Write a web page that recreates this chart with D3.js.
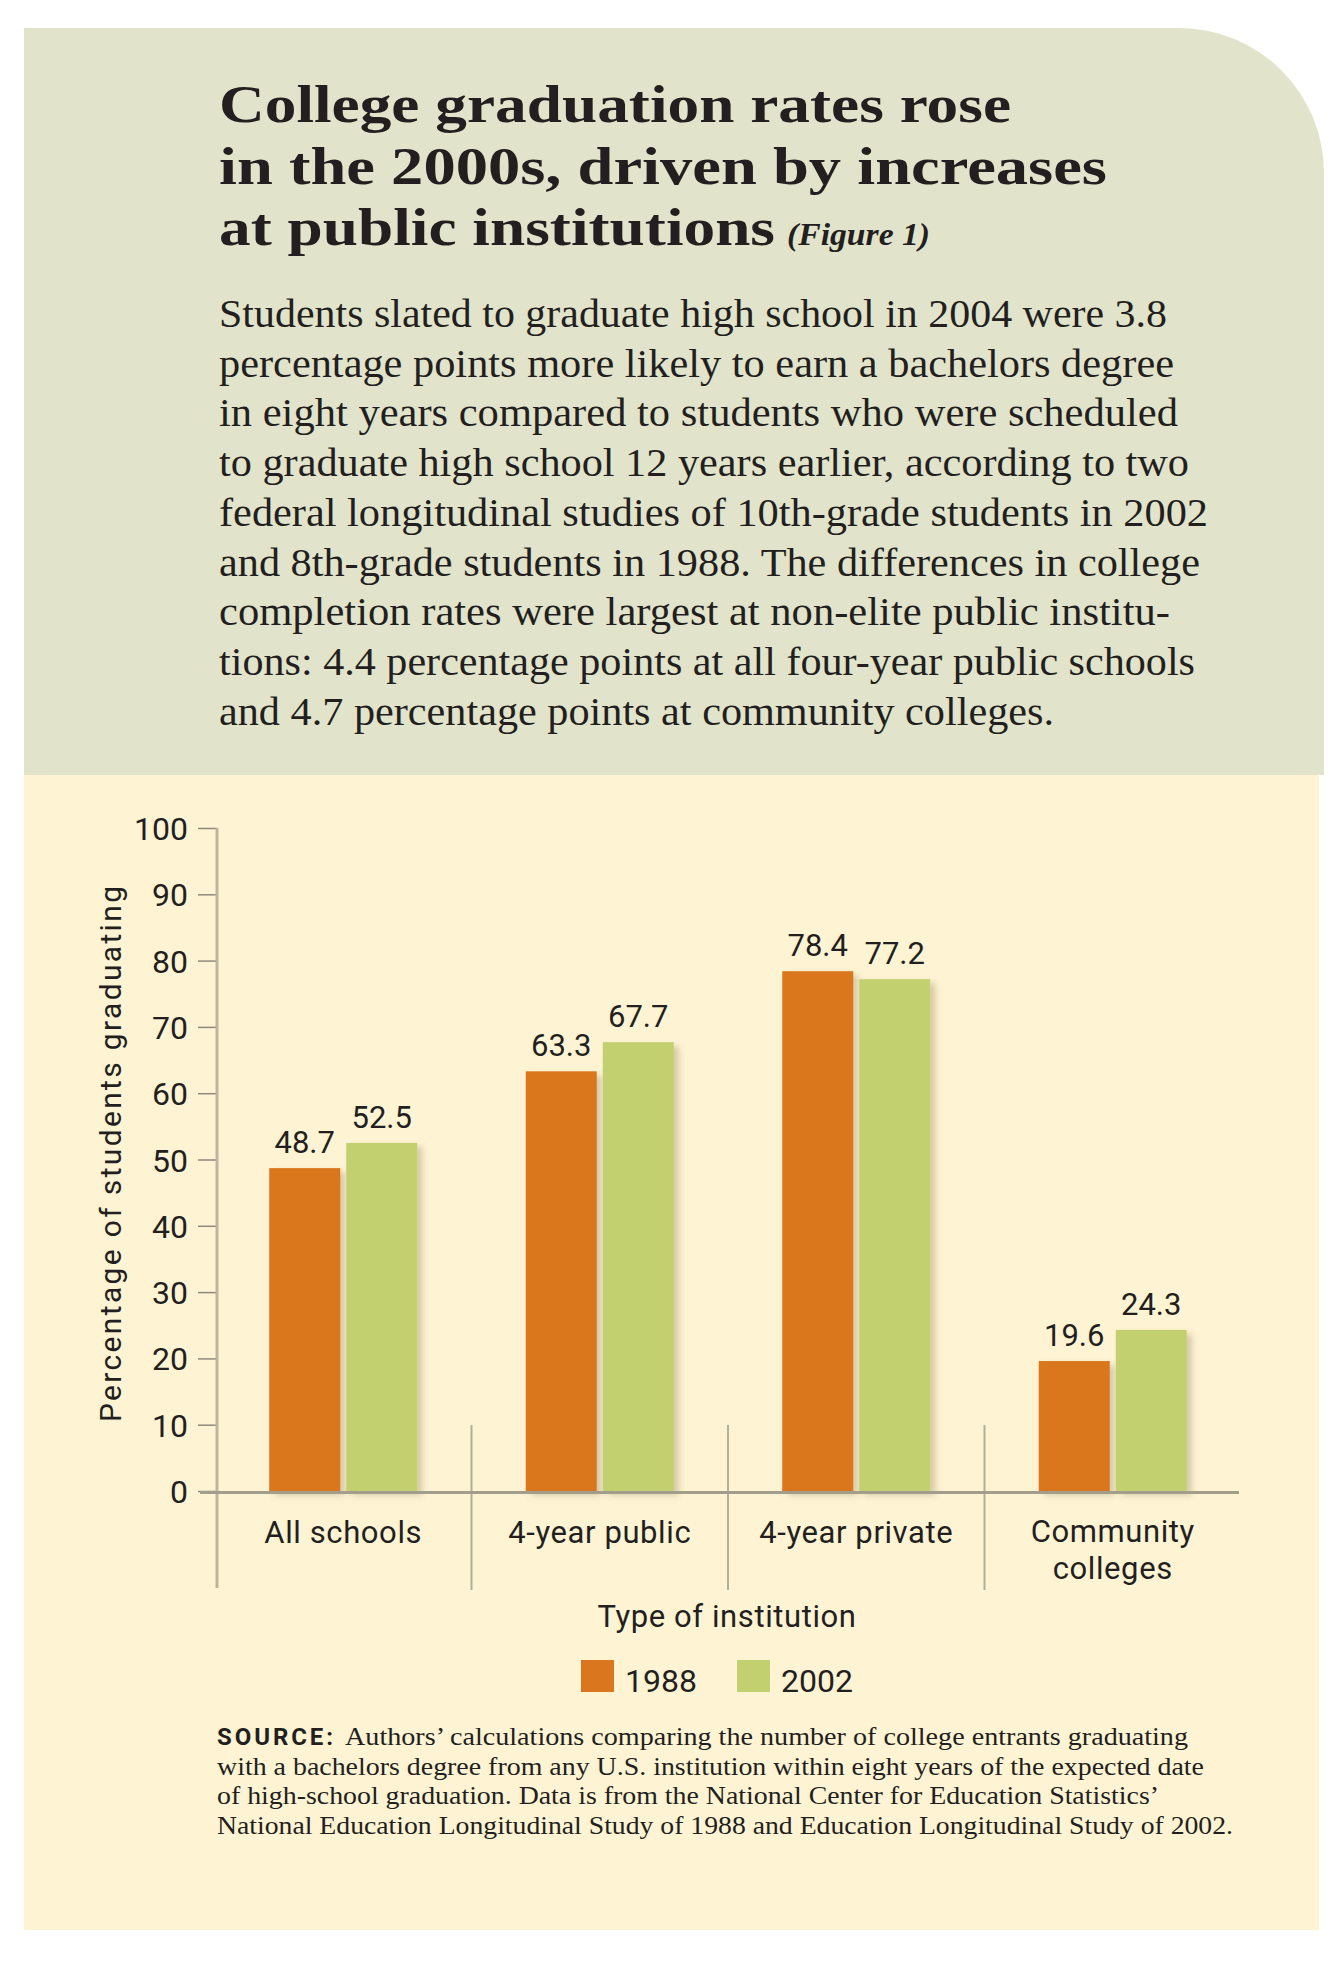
<!DOCTYPE html>
<html>
<head>
<meta charset="utf-8">
<title>College graduation rates</title>
<script src="https://cdn.jsdelivr.net/npm/d3@7"></script>
<style>
  body { margin: 0; background: #fff; }
  svg { display: block; }
  .serif { font-family: "Liberation Serif", "DejaVu Serif", serif; fill: #231f20; }
  .sans { font-family: Roboto, "Open Sans", sans-serif; fill: #231f20; }
</style>
</head>
<body>
<svg id="main" width="1344" height="1961"></svg>
<script>
// data
var categories = ["All schools", "4-year public", "4-year private", "Community colleges"];
var years = ["1988", "2002"];
var rate1988 = [48.7, 63.3, 78.4, 19.6];
var rate2002 = [52.5, 67.7, 77.2, 24.3];
var yTicks = [0, 10, 20, 30, 40, 50, 60, 70, 80, 90, 100];

var titleLines = ["College graduation rates rose", "in the 2000s, driven by increases", "at public institutions"];
var bodyLines = [
  "Students slated to graduate high school in 2004 were 3.8",
  "percentage points more likely to earn a bachelors degree",
  "in eight years compared to students who were scheduled",
  "to graduate high school 12 years earlier, according to two",
  "federal longitudinal studies of 10th-grade students in 2002",
  "and 8th-grade students in 1988. The differences in college",
  "completion rates were largest at non-elite public institu-",
  "tions: 4.4 percentage points at all four-year public schools",
  "and 4.7 percentage points at community colleges."
];
var sourceLines = [
  "Authors\u2019 calculations comparing the number of college entrants graduating",
  "with a bachelors degree from any U.S. institution within eight years of the expected date",
  "of high-school graduation. Data is from the National Center for Education Statistics\u2019",
  "National Education Longitudinal Study of 1988 and Education Longitudinal Study of 2002."
];

var colors = {"1988": "#da761d", "2002": "#c3d070"};
var svg = d3.select("#main");

// shadow for bars
var defs = svg.append("defs");
var f = defs.append("filter").attr("id", "shadow")
  .attr("x", "-20%").attr("y", "-10%").attr("width", "150%").attr("height", "130%");
f.append("feDropShadow").attr("dx", 5).attr("dy", 4).attr("stdDeviation", 3)
  .attr("flood-color", "#6b5a30").attr("flood-opacity", 0.28);

// PANELS
var r = 145;
svg.append("path")
  .attr("d", "M24,28 H" + (1324 - r) + " A" + r + "," + r + " 0 0 1 1324," + (28 + r) + " V775 H24 Z")
  .attr("fill", "#e1e4cb");
svg.append("rect").attr("x", 24).attr("y", 775).attr("width", 1295).attr("height", 1155)
  .attr("fill", "#fef4d4");

// TITLE
var titleEnds = [1011, 1107, 775];
titleLines.forEach(function(t, i) {
  svg.append("text").attr("class", "serif")
    .attr("x", 219).attr("y", 122 + i * 61.5)
    .attr("font-family", "'DejaVu Serif', serif")
    .attr("font-weight", "bold").attr("font-size", 53)
    .attr("textLength", titleEnds[i] - 219).attr("lengthAdjust", "spacingAndGlyphs")
    .text(t);
});
svg.append("text").attr("class", "serif")
  .attr("x", 787).attr("y", 245)
  .attr("font-style", "italic").attr("font-weight", "bold").attr("font-size", 32)
  .attr("textLength", 143).attr("lengthAdjust", "spacingAndGlyphs")
  .text("(Figure 1)");

// BODY TEXT
var bodyEnds = [1167, 1174, 1178, 1189, 1208, 1200, 1170, 1195, 1054];
bodyLines.forEach(function(t, i) {
  svg.append("text").attr("class", "serif")
    .attr("x", 219).attr("y", 327 + i * 49.7)
    .attr("font-size", 41)
    .attr("textLength", bodyEnds[i] - 219).attr("lengthAdjust", "spacingAndGlyphs")
    .text(t);
});

// CHART
var x0 = d3.scaleBand().domain(categories).range([215, 1241]);
var x1 = d3.scaleBand().domain(years)
  .range([x0.bandwidth() / 2 - 74, x0.bandwidth() / 2 + 74]).paddingInner(0.078);
var y = d3.scaleLinear().domain([0, 100]).range([1491, 828]);

// group separators
svg.selectAll(".sep").data(categories.slice(1)).enter().append("line")
  .attr("x1", function(d) { return x0(d); }).attr("x2", function(d) { return x0(d); })
  .attr("y1", 1425).attr("y2", 1590)
  .attr("stroke", "#b3ad9b").attr("stroke-width", 2);

// y axis
var yAxis = svg.append("g").attr("transform", "translate(217,0)")
  .call(d3.axisLeft(y).tickValues(yTicks).tickSize(19).tickPadding(10));
yAxis.select(".domain").remove();
yAxis.selectAll(".tick line").attr("stroke", "#8f897b").attr("stroke-width", 1.5);
yAxis.selectAll(".tick text")
  .attr("font-family", "Roboto, sans-serif").attr("font-size", 32)
  .attr("fill", "#231f20").attr("dy", "0.36em");
svg.append("line").attr("x1", 217).attr("x2", 217)
  .attr("y1", 828).attr("y2", 1588)
  .attr("stroke", "#bdb49c").attr("stroke-width", 3);

// bars
var rows = categories.map(function(c, i) {
  return {cat: c, vals: [{year: "1988", v: rate1988[i]}, {year: "2002", v: rate2002[i]}]};
});
var groups = svg.selectAll(".grp").data(rows).enter().append("g")
  .attr("transform", function(d) { return "translate(" + x0(d.cat) + ",0)"; });
groups.selectAll("rect").data(function(d) { return d.vals; }).enter().append("rect")
  .attr("x", function(d) { return x1(d.year); })
  .attr("width", x1.bandwidth())
  .attr("y", function(d) { return y(d.v); })
  .attr("height", function(d) { return y(0) - y(d.v); })
  .attr("fill", function(d) { return colors[d.year]; })
  .attr("filter", "url(#shadow)");
groups.selectAll(".val").data(function(d) { return d.vals; }).enter().append("text")
  .attr("class", "sans")
  .attr("x", function(d) { return x1(d.year) + x1.bandwidth() / 2; })
  .attr("y", function(d) { return y(d.v) - 15; })
  .attr("text-anchor", "middle").attr("font-size", 31)
  .text(function(d) { return d.v.toFixed(1); });

// baseline
svg.append("line").attr("x1", 200).attr("x2", 1239)
  .attr("y1", y(0) + 1.5).attr("y2", y(0) + 1.5)
  .attr("stroke", "#a39d8b").attr("stroke-width", 3);

// category labels
categories.forEach(function(c) {
  var words = c == "Community colleges" ? ["Community", "colleges"] : [c];
  words.forEach(function(w, j) {
    svg.append("text").attr("class", "sans")
      .attr("x", x0(c) + x0.bandwidth() / 2)
      .attr("y", words.length > 1 ? 1542 + j * 37 : 1543)
      .attr("text-anchor", "middle").attr("font-size", 31).attr("letter-spacing", 0.6)
      .text(w);
  });
});

// axis titles
svg.append("text").attr("class", "sans")
  .attr("transform", "translate(121,1154) rotate(-90)")
  .attr("text-anchor", "middle").attr("font-size", 30)
  .attr("textLength", 536).attr("lengthAdjust", "spacing")
  .text("Percentage of students graduating");
svg.append("text").attr("class", "sans")
  .attr("x", 727).attr("y", 1627).attr("text-anchor", "middle")
  .attr("font-size", 31).attr("letter-spacing", 0.6)
  .text("Type of institution");

// LEGEND
var leg = svg.selectAll(".leg").data(years).enter().append("g")
  .attr("transform", function(d, i) { return "translate(" + (581 + i * 156) + ",1660)"; });
leg.append("rect").attr("width", 33).attr("height", 32)
  .attr("fill", function(d) { return colors[d]; });
leg.append("text").attr("class", "sans")
  .attr("x", 44).attr("y", 32).attr("font-size", 32)
  .text(function(d) { return d; });

// SOURCE
svg.append("text").attr("class", "sans")
  .attr("x", 217).attr("y", 1745).attr("font-size", 24).attr("font-weight", "bold")
  .attr("textLength", 116).attr("lengthAdjust", "spacing")
  .text("SOURCE:");
var srcStarts = [345, 217, 217, 217];
var srcEnds = [1188, 1204, 1159, 1233];
sourceLines.forEach(function(t, i) {
  svg.append("text").attr("class", "serif")
    .attr("x", srcStarts[i]).attr("y", 1745 + i * 29.7)
    .attr("font-size", 25)
    .attr("textLength", srcEnds[i] - srcStarts[i]).attr("lengthAdjust", "spacingAndGlyphs")
    .text(t);
});
</script>
</body>
</html>
